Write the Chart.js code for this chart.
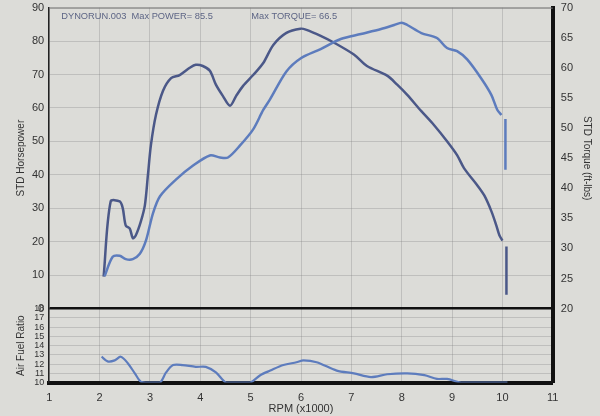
<!DOCTYPE html>
<html>
<head>
<meta charset="utf-8">
<script src="https://cdn.jsdelivr.net/npm/chart.js@4/dist/chart.umd.min.js"></script>
<style>
  html, body { margin:0; padding:0; background:#dcdcd8; overflow:hidden; }
  #wrap { position:relative; top:-7px; width:600px; height:423px; }
</style>
</head>
<body>
<div id="wrap"><canvas id="dyno"></canvas></div>
<script>
// ===== Data =====
const hpRpm = [2.10,2.26,2.40,2.52,2.66,2.80,2.92,3.06,3.20,3.51,3.85,4.19,4.39,4.55,4.79,5.05,5.25,5.39,5.71,5.99,6.39,6.79,7.19,7.59,7.85,8.00,8.11,8.39,8.70,8.90,9.10,9.30,9.58,9.78,9.90,9.98,10.02,10.06,10.06];
const hpValues = [9.7,15.5,15.8,14.8,14.8,16.4,20.3,28.5,33.6,38.5,42.7,45.8,45.2,45.2,48.8,53.6,59.4,62.7,70.9,74.8,77.6,80.6,82.1,83.6,84.8,85.5,84.8,82.4,80.9,77.9,77.0,74.5,68.8,63.9,59.4,57.9,null,56.7,41.5];

const tqRpm = [2.08,2.22,2.40,2.46,2.52,2.60,2.66,2.72,2.82,2.90,2.96,3.02,3.12,3.26,3.42,3.59,3.79,3.91,4.05,4.19,4.31,4.45,4.59,4.71,4.85,5.05,5.25,5.45,5.71,5.99,6.11,6.39,6.65,7.05,7.31,7.71,7.91,8.11,8.39,8.64,8.90,9.10,9.24,9.50,9.64,9.78,9.88,9.94,10.00,10.04,10.08,10.08];
const tqValues = [25.3,37.8,37.8,36.7,33.8,33.3,31.7,32.2,34.5,37.2,42.2,47.2,52.2,56.2,58.3,58.8,60.0,60.5,60.3,59.5,57.2,55.3,53.7,55.3,57.0,58.8,60.8,63.8,65.8,66.5,66.3,65.3,64.2,62.2,60.3,58.7,57.2,55.5,52.8,50.5,47.8,45.5,43.3,40.5,38.8,36.2,33.8,32.2,31.3,null,30.3,22.3];

const afrRpm = [2.04,2.16,2.30,2.42,2.56,2.70,2.82,3.00,3.20,3.32,3.46,3.65,3.91,4.11,4.31,4.51,4.71,4.99,5.19,5.39,5.65,5.91,6.05,6.31,6.71,7.05,7.39,7.71,8.11,8.45,8.70,8.90,9.18,9.50,9.78,10.10];
const afrValues = [12.8,12.3,12.4,12.8,12.1,11.0,10.1,10.0,10.0,11.1,11.9,11.9,11.7,11.7,11.1,10.0,10.0,10.0,10.8,11.3,11.9,12.2,12.4,12.2,11.3,11.0,10.6,10.9,11.0,10.8,10.4,10.4,10.0,10.0,10.0,10.0];

const runName = "DYNORUN.003";
const maxPower = 85.5;
const maxTorque = 66.5;

const toPoints = (xs, ys) => xs.map((x, i) => ({ x: x, y: ys[i] }));

const inkDark = "#4b5888";
const inkLight = "#5d7cbd";
const gridColor = "rgba(120,120,120,0.28)";
const font = "'Liberation Sans', Arial, sans-serif";

// top border + run header text
const sheetPlugin = {
  id: "sheet",
  afterDraw(chart) {
    const { ctx, chartArea: a } = chart;
    ctx.save();
    ctx.strokeStyle = "#777";
    ctx.lineWidth = 1;
    ctx.beginPath();
    ctx.moveTo(a.left, a.top + 0.5);
    ctx.lineTo(a.right, a.top + 0.5);
    ctx.stroke();
    ctx.fillStyle = "#5d6585";
    ctx.font = "9.3px " + font;
    ctx.textBaseline = "middle";
    ctx.fillText(runName + "  Max POWER= " + maxPower, a.left + 12, a.top + 9);
    ctx.fillText("Max TORQUE= " + maxTorque, a.left + 202, a.top + 9);
    ctx.restore();
  }
};

new Chart(document.getElementById("dyno"), {
  type: "line",
  data: {
    datasets: [
      { label: "STD Horsepower", data: toPoints(hpRpm, hpValues), yAxisID: "yHp",
        borderColor: inkLight, borderWidth: 2.5, pointRadius: 0, tension: 0.3, spanGaps: false },
      { label: "STD Torque", data: toPoints(tqRpm, tqValues), yAxisID: "yTq",
        borderColor: inkDark, borderWidth: 2.5, pointRadius: 0, tension: 0.3, spanGaps: false },
      { label: "Air Fuel Ratio", data: toPoints(afrRpm, afrValues), yAxisID: "yAfr",
        borderColor: inkLight, borderWidth: 2.2, pointRadius: 0, tension: 0.3 }
    ]
  },
  options: {
    responsive: true,
    maintainAspectRatio: false,
    animation: false,
    layout: { padding: { left: 15, right: 6, top: 0, bottom: 0 } },
    plugins: { legend: { display: false }, tooltip: { enabled: false } },
    scales: {
      x: {
        type: "linear", min: 1, max: 11,
        ticks: { stepSize: 1, color: "#333", font: { family: font, size: 11 }, padding: 9 },
        grid: { color: gridColor, drawTicks: false },
        border: { color: "#111", width: 4 },
        title: { display: true, text: "RPM (x1000)", color: "#333", font: { family: font, size: 11 }, padding: { top: -11, bottom: 0 } }
      },
      yAfr: {
        position: "left", stack: "left", stackWeight: 1,
        min: 10, max: 18,
        ticks: { stepSize: 1, autoSkip: false, color: "#333", font: { family: font, size: 9 }, padding: 5 },
        grid: { color: gridColor, drawTicks: false },
        border: { color: "#222", width: 1.5 },
        title: { display: true, text: "Air Fuel Ratio", color: "#333", font: { family: font, size: 10 }, padding: { top: 0, bottom: 0 } }
      },
      yHp: {
        position: "left", stack: "left", stackWeight: 4.07,
        min: 0, max: 90,
        ticks: { stepSize: 10, color: "#333", font: { family: font, size: 11 }, padding: 5 },
        grid: {
          drawTicks: false,
          color: c => c.tick && c.tick.value === 0 ? "#111" : gridColor,
          lineWidth: c => c.tick && c.tick.value === 0 ? 2.5 : 1
        },
        border: { color: "#222", width: 1.5 },
        title: { display: true, text: "STD Horsepower", color: "#333", font: { family: font, size: 10 }, padding: { top: 0, bottom: 0 } }
      },
      yTq: {
        position: "right", stack: "right", stackWeight: 4.07,
        min: 20, max: 70,
        ticks: { stepSize: 5, color: "#333", font: { family: font, size: 11 }, padding: 8 },
        grid: { display: false, drawTicks: false },
        border: { color: "#111", width: 4 },
        title: { display: true, text: "STD Torque (ft-lbs)", color: "#333", font: { family: font, size: 10 }, padding: { top: 1, bottom: 0 } }
      },
      yBlank: {
        position: "right", stack: "right", stackWeight: 1,
        min: 0, max: 1,
        ticks: { display: false },
        grid: { display: false, drawTicks: false },
        border: { color: "#111", width: 4 }
      }
    }
  },
  plugins: [sheetPlugin]
});
</script>
</body>
</html>
